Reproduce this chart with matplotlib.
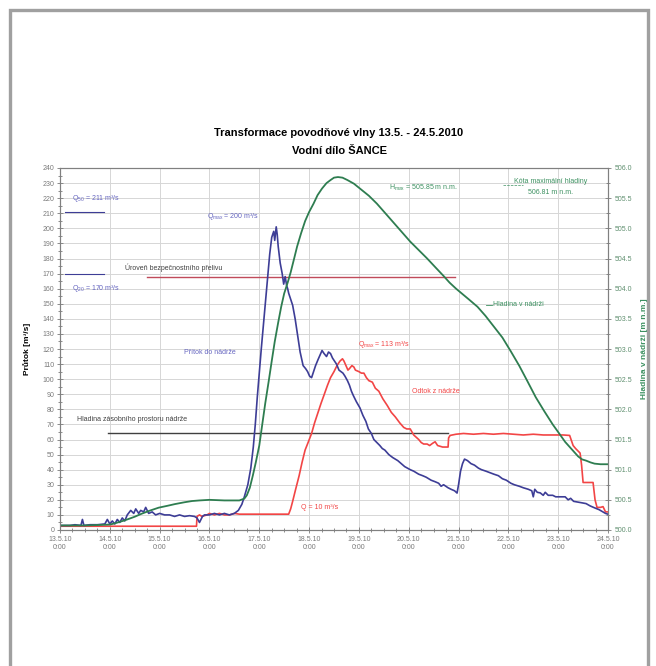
import matplotlib
matplotlib.use('Agg')
import matplotlib.pyplot as plt
from matplotlib.patches import Rectangle
from matplotlib.ticker import MultipleLocator, FormatStrFormatter

plt.rcParams['font.family'] = ['Liberation Sans', 'DejaVu Sans']
plt.rcParams['mathtext.fontset'] = 'custom'
plt.rcParams['mathtext.rm'] = 'Liberation Sans'
plt.rcParams['mathtext.default'] = 'regular'

# dny od 13.5.2010 0:00
day_labels = ['13.5.10\n0:00', '14.5.10\n0:00', '15.5.10\n0:00', '16.5.10\n0:00',
              '17.5.10\n0:00', '18.5.10\n0:00', '19.5.10\n0:00', '20.5.10\n0:00',
              '21.5.10\n0:00', '22.5.10\n0:00', '23.5.10\n0:00', '24.5.10\n0:00']

# pritok do nadrze [m3/s]
inflow_t = [0.0, 0.2, 0.3, 0.42, 0.45, 0.48, 0.6, 0.75, 0.9, 0.95, 1.0, 1.05, 1.1, 1.15, 1.2,
            1.25, 1.3, 1.35, 1.42, 1.48, 1.52, 1.58, 1.62, 1.68, 1.72, 1.78, 1.85, 1.92, 2.0,
            2.1, 2.2, 2.3, 2.4, 2.5, 2.6, 2.7, 2.75, 2.8, 2.83, 2.86, 2.9, 3.0, 3.1, 3.2, 3.3,
            3.4, 3.5, 3.58, 3.65, 3.7, 3.77, 3.83, 3.88, 3.92, 3.96, 4.0, 4.04, 4.08, 4.12,
            4.17, 4.21, 4.25, 4.29, 4.31, 4.34, 4.36, 4.38, 4.42, 4.46, 4.49, 4.52, 4.55, 4.57,
            4.59, 4.63, 4.67, 4.72, 4.77, 4.82, 4.88, 4.93, 4.97, 5.01, 5.05, 5.09, 5.13, 5.18,
            5.22, 5.26, 5.3, 5.35, 5.39, 5.43, 5.47, 5.51, 5.55, 5.6, 5.64, 5.68, 5.72, 5.77,
            5.81, 5.85, 5.89, 5.95, 6.02, 6.08, 6.14, 6.19, 6.25, 6.3, 6.36, 6.42, 6.47, 6.52,
            6.6, 6.68, 6.78, 6.85, 6.92, 7.03, 7.1, 7.2, 7.28, 7.35, 7.45, 7.53, 7.6, 7.65,
            7.7, 7.79, 7.85, 7.92, 7.97, 8.0, 8.04, 8.08, 8.12, 8.18, 8.25, 8.32, 8.4, 8.46,
            8.55, 8.63, 8.71, 8.8, 8.88, 8.96, 9.05, 9.12, 9.22, 9.3, 9.4, 9.47, 9.5, 9.53,
            9.58, 9.64, 9.7, 9.74, 9.8, 9.89, 9.95, 10.05, 10.14, 10.2, 10.25, 10.31, 10.4,
            10.48, 10.56, 10.64, 10.73, 10.82, 10.9, 10.95, 11.0]
inflow_q = [3, 3, 3.5, 3, 7, 3, 3.5, 3.5, 4, 7, 4, 6, 4, 7, 5,
            8, 6, 10, 13, 11, 14, 11, 13, 12, 15, 11, 12, 10, 11,
            10, 10, 9, 10, 9, 9.5, 9, 8, 5, 7, 9, 10, 10, 11, 10, 11,
            10, 11, 13, 17, 22, 30, 41, 55, 70, 88, 104, 120, 135, 150,
            169, 183, 194, 198, 192, 201, 196, 188, 177, 170, 163, 168, 162, 160,
            157, 153, 149, 140, 129, 118, 109, 107, 105, 102, 101, 105, 109, 113,
            116, 119, 117, 115, 118, 117, 114, 112, 110, 106, 105, 104, 102, 99,
            96, 92, 89, 85, 81, 76, 72, 67, 64, 60, 58, 56, 54, 53,
            50, 48, 46, 44, 42, 40, 39, 37, 36, 35, 33, 32, 31, 29,
            30, 28, 27, 26, 24.5, 30, 39, 44, 47, 46, 44, 43, 41, 40,
            39, 38, 37, 36, 34, 33, 31, 30, 29, 28, 27, 26, 22, 27,
            25, 24.6, 23, 25, 23, 23, 22, 22, 22, 20, 21, 19, 18.5,
            18, 17.5, 16, 14.7, 13.5, 12, 11, 10.5]

# odtok z nadrze [m3/s]
outflow_t = [0.0, 2.74, 2.75, 2.8, 2.85, 2.95, 3.0, 3.1, 3.2, 3.3, 3.4, 3.5, 3.6, 3.8, 4.0,
             4.3, 4.59, 4.63, 4.67, 4.73, 4.8, 4.86, 4.92, 4.98, 5.05, 5.11, 5.18, 5.24, 5.3,
             5.37, 5.43, 5.5, 5.56, 5.62, 5.67, 5.7, 5.74, 5.78, 5.81, 5.86, 5.9, 5.93, 6.0,
             6.05, 6.1, 6.15, 6.2, 6.27, 6.33, 6.4, 6.48, 6.57, 6.65, 6.73, 6.82, 6.9, 6.96,
             7.03, 7.1, 7.2, 7.25, 7.3, 7.37, 7.42, 7.48, 7.53, 7.58, 7.62, 7.68, 7.74, 7.79,
             7.8, 7.83, 7.95, 8.1, 8.3, 8.5, 8.7, 8.9, 9.1, 9.3, 9.5, 9.7, 9.9, 10.1, 10.23,
             10.3, 10.35, 10.44, 10.47, 10.5, 10.7, 10.74, 10.78, 10.85, 10.9, 10.95, 11.0]
outflow_q = [2.5, 2.5, 9, 10, 9, 10, 11, 10, 11, 10, 10, 11, 10.5, 10.5, 10.5,
             10.5, 10.5, 14, 19, 27, 36, 45, 53, 58, 64, 71, 78, 84, 89.5,
             96, 101, 105, 109, 112, 113.5, 112, 109, 106, 107, 109, 108, 106, 105,
             104, 104, 101, 99, 98, 94, 92, 87, 82.5, 78, 75, 71, 68, 67,
             67, 63, 60, 58, 57, 57, 56, 57.5, 58.5, 56, 55.6, 55, 55, 55,
             61, 62.7, 63.5, 64, 63.5, 64, 63.5, 64, 63.5, 63, 63.5, 63, 63, 63, 62.7,
             56, 54, 51, 43, 31.5, 31.5, 20, 15, 15, 15.5, 12, 12]

# hladina v nadrzi [m n.m.]
level_t = [0.0, 0.5, 1.0, 1.1, 1.3, 1.5, 1.64, 1.8, 1.98, 2.15, 2.31, 2.5, 2.65, 2.8, 3.0,
           3.3, 3.6, 3.7, 3.75, 3.81, 3.87, 3.93, 4.0, 4.06, 4.12, 4.19, 4.25, 4.31, 4.38,
           4.44, 4.5, 4.57, 4.63, 4.7, 4.76, 4.84, 4.92, 5.0, 5.09, 5.17, 5.26, 5.35, 5.43,
           5.5, 5.58, 5.67, 5.77, 5.9, 6.02, 6.2, 6.36, 6.52, 6.69, 6.86, 7.03, 7.2, 7.37,
           7.54, 7.7, 7.82, 7.95, 8.08, 8.21, 8.38, 8.54, 8.71, 8.88, 9.05, 9.22, 9.38, 9.55,
           9.72, 9.89, 10.02, 10.14, 10.27, 10.4, 10.48, 10.56, 10.65, 10.73, 10.85, 11.0]
level_h = [500.075, 500.075, 500.09, 500.11, 500.16, 500.22, 500.27, 500.32, 500.37, 500.40,
           500.43, 500.46, 500.48, 500.49, 500.50, 500.49, 500.49, 500.52, 500.575, 500.70,
           500.90, 501.12, 501.40, 501.75, 502.10, 502.47, 502.80, 503.12, 503.44, 503.70,
           503.92, 504.10, 504.27, 504.50, 504.70, 504.92, 505.12, 505.27, 505.41, 505.55,
           505.66, 505.75, 505.80, 505.84, 505.85, 505.84, 505.80, 505.74, 505.66, 505.54,
           505.41, 505.26, 505.10, 504.94, 504.78, 504.64, 504.50, 504.35, 504.21, 504.10,
           504.00, 503.91, 503.82, 503.70, 503.55, 503.37, 503.19, 502.96, 502.72, 502.47,
           502.20, 501.97, 501.75, 501.60, 501.46, 501.34, 501.22, 501.17, 501.15, 501.12,
           501.10, 501.09, 501.09]

q_spillway = 168   # uroven bezpecnostniho prelivu
q_storage = 64     # hladina zasobniho prostoru
q50 = 211
q20 = 170

blue = '#3d3d96'
blue_txt = '#6565c0'
red = '#f24545'
green = '#2e7d50'
green_txt = '#3c9060'
gray = '#7a7a7a'

W, H = 656, 666
fig = plt.figure(figsize=(W / 100, H / 100), dpi=100)
fig.patch.set_facecolor('white')

# ramecek obrazku
fig.patches.append(Rectangle((10 / W, -0.05), 638 / W, 1.05 - 10 / H, transform=fig.transFigure,
                             fill=False, edgecolor='#a0a0a0', linewidth=2.4))

ax = fig.add_axes([60 / W, 1 - 530 / H, 548 / W, 362 / H])
ax.set_xlim(0, 11)
ax.set_ylim(0, 240)
ax.set_xticks(range(12))
ax.set_xticklabels(day_labels)
ax.xaxis.set_minor_locator(MultipleLocator(0.25))
ax.yaxis.set_major_locator(MultipleLocator(10))
ax.yaxis.set_minor_locator(MultipleLocator(5))
ax.grid(True, which='major', color='#d6d6d6', linewidth=0.7)
ax.set_axisbelow(True)
ax.tick_params(which='both', direction='inout', colors=gray, labelsize=5, width=0.6, pad=2)
ax.tick_params(which='major', length=4)
ax.tick_params(which='minor', length=2.5)
for sp in ax.spines.values():
    sp.set_color('#808080')
    sp.set_linewidth(0.8)
ax.set_ylabel('Průtok [m³/s]', fontsize=6, fontweight='bold', labelpad=8)

# vodorovne urovne
ax.plot([1.74, 7.93], [q_spillway, q_spillway], color='#c04a5a', lw=1.0)
ax.plot([0.96, 7.79], [q_storage, q_storage], color='#404040', lw=1.0)
ax.plot([0.1, 0.88], [q50, q50], color=blue, lw=0.8)
ax.plot([0.1, 0.88], [q20, q20], color=blue, lw=0.8)

ax.plot(outflow_t, outflow_q, color=red, lw=1.2, zorder=3)
ax.plot(inflow_t, inflow_q, color=blue, lw=1.2, zorder=4)

ax2 = ax.twinx()
ax2.set_ylim(500, 506)
ax2.yaxis.set_major_locator(MultipleLocator(0.5))
ax2.yaxis.set_minor_locator(MultipleLocator(0.25))
ax2.yaxis.set_major_formatter(FormatStrFormatter('%.1f'))
ax2.tick_params(which='both', direction='inout', colors=gray, labelsize=5, width=0.6, pad=3)
ax2.tick_params(axis='y', labelcolor='#5f8f6f')
ax2.tick_params(which='major', length=4)
ax2.tick_params(which='minor', length=2.5)
for sp in ax2.spines.values():
    sp.set_color('#808080')
    sp.set_linewidth(0.8)
ax2.plot(level_t, level_h, color=green, lw=1.3)
ax2.set_ylabel('Hladina v nádrži [m n.m.]', fontsize=6, fontweight='bold', color=green_txt,
               rotation=90, labelpad=6)

# popisky
fs = 5
ax.text(0.24, 220, 'Q$_{50}$ = 211 m³/s', color=blue_txt, fontsize=fs, va='center')
ax.text(0.24, 160, 'Q$_{20}$ = 170 m³/s', color=blue_txt, fontsize=fs, va='center')
ax.text(1.3, 174, 'Úroveň bezpečnostního přelivu', color='#404040', fontsize=fs, va='center')
ax.text(2.95, 208, 'Q$_{max}$ = 200 m³/s', color=blue_txt, fontsize=fs, va='center')
ax.text(2.49, 117.5, 'Přítok do nádrže', color=blue_txt, fontsize=fs, va='center')
ax.text(0.34, 73, 'Hladina zásobního prostoru nádrže', color='#404040', fontsize=fs, va='center')
ax.text(4.84, 15, 'Q = 10 m³/s', color=red, fontsize=fs, va='center')
ax.text(5.98, 123, 'Q$_{max}$ = 113 m³/s', color=red, fontsize=fs, va='center')
ax.text(7.07, 92, 'Odtok z nádrže', color=red, fontsize=fs, va='center')
ax.plot([8.55, 8.68], [149.5, 149.5], color=green_txt, lw=0.6)
ax.text(8.7, 149.5, 'Hladina v nádrži', color=green_txt, fontsize=fs, va='center')
ax.text(6.6, 227, 'H$_{max}$ = 505.85 m n.m.', color=green_txt, fontsize=fs, va='center')
ax.plot([8.9, 9.3], [229, 229], color=green_txt, lw=0.5, ls='--')
ax.text(9.84, 231, 'Kóta maximální hladiny', color=green_txt, fontsize=fs, va='center', ha='center')
ax.text(9.84, 224, '506.81 m n.m.', color=green_txt, fontsize=fs, va='center', ha='center')

fig.text(339 / W, 1 - 133 / H, 'Transformace povodňové vlny 13.5. - 24.5.2010', ha='center',
         va='center', fontsize=8, fontweight='bold')
fig.text(339 / W, 1 - 151 / H, 'Vodní dílo ŠANCE', ha='center', va='center', fontsize=8,
         fontweight='bold')

fig.savefig('out.png', dpi=100)
